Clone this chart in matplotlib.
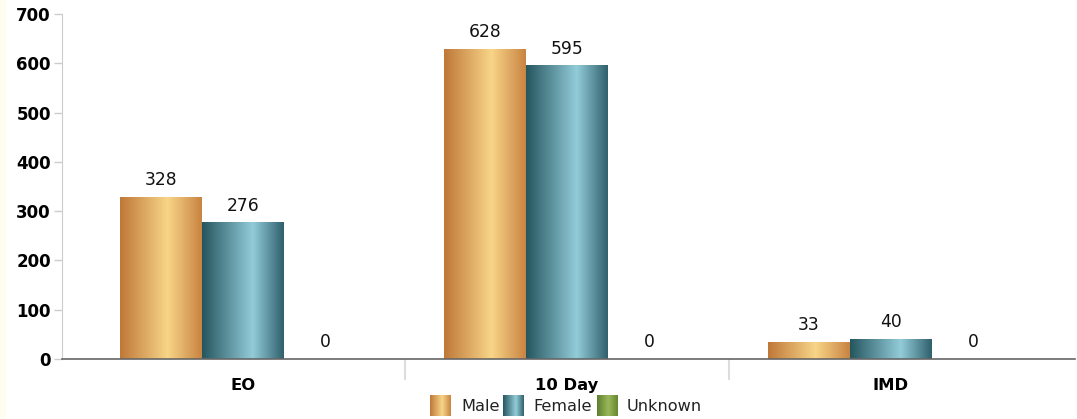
import numpy as np
import matplotlib
matplotlib.use("Agg")
import matplotlib.pyplot as plt
from matplotlib.colors import LinearSegmentedColormap
from matplotlib.patches import Rectangle

categories = ["EO", "10 Day", "IMD"]
series_names = ["Male", "Female", "Unknown"]
male = [328, 628, 33]
female = [276, 595, 40]
unknown = [0, 0, 0]
yticks = [0, 100, 200, 300, 400, 500, 600, 700]

cmaps = [
    LinearSegmentedColormap.from_list("m", [(0, "#bf7838"), (0.58, "#f8d588"), (1, "#c98442")]),
    LinearSegmentedColormap.from_list("f", [(0, "#25565f"), (0.62, "#93ccd9"), (1, "#2f606c")]),
    LinearSegmentedColormap.from_list("u", [(0, "#5f7e2e"), (0.55, "#9ab85a"), (1, "#66852f")]),
]

W, H = 1077, 419
fig = plt.figure(figsize=(W / 100, H / 100), dpi=100)
fig.patches.append(Rectangle((0, 0), 5 / W, 1, transform=fig.transFigure,
                             color="#fffcf0", zorder=0))
ax = fig.add_axes([62 / W, 1 - 359 / H, (1075 - 62) / W, (359 - 14) / H])

grad = np.linspace(0, 1, 256).reshape(1, -1)
bw = 0.253
all_series = [male, female, unknown]
for s, vals in enumerate(all_series):
    for i, v in enumerate(vals):
        left = i + (s - 1) * bw - bw / 2
        if v > 0:
            ax.imshow(grad, cmap=cmaps[s], aspect="auto",
                      extent=[left, left + bw, 0, v], zorder=2,
                      interpolation="bilinear")
        ax.text(left + bw / 2, v + 35, str(v), ha="center", va="center",
                fontsize=12.3, color="#111111")

ax.set_xlim(-0.5 - 19 / 324, len(categories) - 0.5 + 22 / 324)
ax.set_ylim(0, 700)
ax.set_yticks(yticks)
ax.set_yticklabels([str(t) for t in yticks], fontsize=12, fontweight="bold")
ax.tick_params(axis="y", length=6, color="#cccccc", width=1, pad=2)
ax.set_xticks([0.5, 1.5])
ax.set_xticklabels([])
ax.tick_params(axis="x", length=15, color="#dddddd", width=1.5)
for i, c in enumerate(categories):
    ax.text(i, -54, c, ha="center", va="center", fontsize=11.8,
            fontweight="bold", clip_on=False)

for sp in ["top", "right"]:
    ax.spines[sp].set_visible(False)
ax.spines["left"].set_color("#cccccc")
ax.spines["bottom"].set_color("#666666")
ax.spines["bottom"].set_linewidth(1.2)
ax.spines["bottom"].set_zorder(3)

# legend (manual, with gradient swatches)
swatch_x = [430, 503, 597]
label_x = [461, 533, 627]
for s, name in enumerate(series_names):
    sax = fig.add_axes([swatch_x[s] / W, 1 - 416 / H, 21 / W, 21 / H])
    sax.imshow(grad, cmap=cmaps[s], aspect="auto", interpolation="bilinear")
    sax.axis("off")
    fig.text(label_x[s] / W, 1 - 406 / H, name, ha="left", va="center",
             fontsize=11.6, color="#222222")

fig.savefig("out.png", dpi=100)
